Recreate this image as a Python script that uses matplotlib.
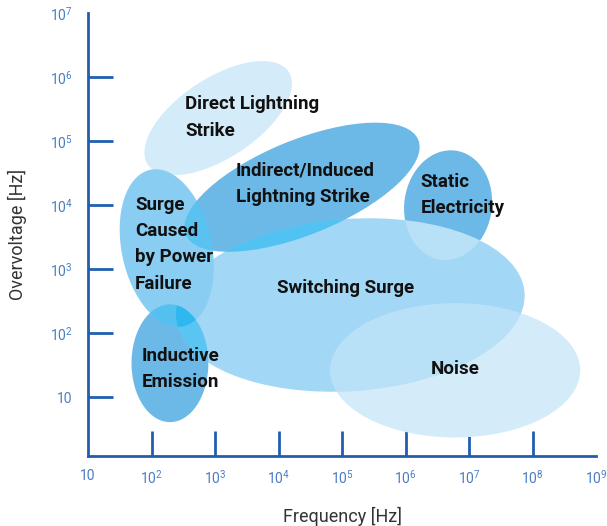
import matplotlib
matplotlib.use("Agg")
import matplotlib.pyplot as plt
from matplotlib.patches import Ellipse

# phenomena (log10 of frequency / voltage ranges, as ellipses)
names = ["Direct Lightning\nStrike", "Indirect/Induced\nLightning Strike",
         "Static\nElectricity", "Surge\nCaused\nby Power\nFailure",
         "Inductive\nEmission", "Switching Surge", "Noise"]
freq_center = [3.05, 4.37, 6.67, 2.24, 2.29, 5.13, 6.78]
volt_center = [5.36, 4.28, 4.00, 3.33, 1.53, 2.44, 1.42]
freq_span = [2.65, 3.95, 1.38, 2.50, 1.21, 5.50, 3.94]
volt_span = [1.25, 1.48, 1.72, 1.42, 1.84, 2.69, 2.10]
tilt = [33, 22, -8, 102, 0, 4, 0]
fills = ["#d4ebf9", "#6cb8e6", "#6cb8e6", "#89cdf2", "#6cb8e6", "#a2d7f5", "#d4ebf9"]

# label anchors (left, middle of text block)
label_x = [2.53, 3.33, 6.24, 1.74, 1.85, 3.98, 6.40]
label_y = [5.37, 4.34, 4.16, 3.39, 1.44, 2.70, 1.44]

xticks = [1, 2, 3, 4, 5, 6, 7, 8, 9]
yticks = [1, 2, 3, 4, 5, 6, 7]

DIRECT, INDIRECT, STATIC, SURGE, INDUCT, SWITCH, NOISE = range(7)
draw_order = [DIRECT, INDIRECT, STATIC, INDUCT, NOISE, SWITCH, SURGE]
# (shape, clip, colour, alpha) for overlapping areas
overlaps = [(STATIC, SWITCH, "white", 0.24), (NOISE, SWITCH, "white", 0.24),
            (INDIRECT, SWITCH, "#00aeef", 0.49), (INDIRECT, SURGE, "#00aeef", 0.35),
            (INDUCT, SWITCH, "#00aeef", 0.44), (INDUCT, SURGE, "#00aeef", 0.39)]


def powlabel(k):
    return "10" if k == 1 else r"$\mathregular{10^{%d}}$" % k


def make_ellipse(i, **kw):
    return Ellipse((freq_center[i], volt_center[i]), freq_span[i], volt_span[i],
                   angle=tilt[i], **kw)


plt.rcParams['font.family'] = ['Roboto', 'DejaVu Sans']

fig = plt.figure(figsize=(6.07, 5.26), dpi=100)
ax = fig.add_axes([0.145, 0.133, 0.837, 0.842])

patches = {}
for z, i in enumerate(draw_order):
    e = make_ellipse(i, facecolor=fills[i], edgecolor="none", zorder=z + 1)
    ax.add_patch(e)
    patches[i] = e

for shape, clip, col, a in overlaps:
    e = make_ellipse(shape, facecolor=col, edgecolor="none", alpha=a, zorder=10)
    ax.add_patch(e)
    e.set_clip_path(patches[clip])

for i in range(len(names)):
    ax.text(label_x[i], label_y[i], names[i], ha="left", va="center",
            fontsize=13.5, fontweight="bold", color="#111111",
            linespacing=1.6, zorder=20)

ax.set_xlim(1, 9)
ax.set_ylim(0.08, 7)

axis_blue = "#1f5fae"
for s in ["top", "right"]:
    ax.spines[s].set_visible(False)
for s in ["left", "bottom"]:
    ax.spines[s].set_color(axis_blue)
    ax.spines[s].set_linewidth(2)
    ax.spines[s].set_zorder(30)

ax.set_xticks(xticks)
ax.set_xticklabels([powlabel(k) for k in xticks])
ax.set_yticks(yticks)
ax.set_yticklabels([powlabel(k) for k in yticks])
ax.tick_params(axis="both", length=0, labelcolor="#4a7cc4", labelsize=10)
ax.tick_params(axis="x", pad=9)
ax.tick_params(axis="y", pad=11)

ax.xaxis.remove_overlapping_locs = False
ax.yaxis.remove_overlapping_locs = False
ax.set_xticks(xticks[1:-1], minor=True)
ax.set_yticks(yticks[:-1], minor=True)
ax.tick_params(which="minor", direction="in", length=18, width=2, color=axis_blue)

ax.set_xlabel("Frequency [Hz]", fontsize=13, color="#333333", labelpad=15)
ax.set_ylabel("Overvoltage [Hz]", fontsize=13, color="#333333", labelpad=16)

fig.savefig("out.png", dpi=100)
